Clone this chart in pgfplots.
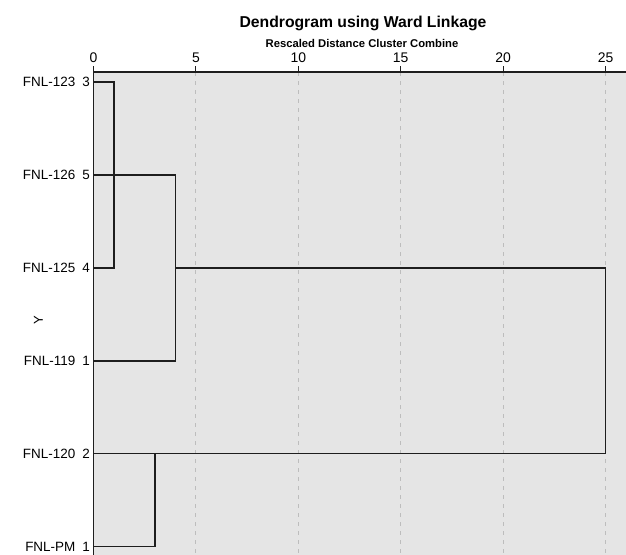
\documentclass[border=0pt]{standalone}
\usepackage{fontspec}
\setmainfont{Liberation Sans}
\usepackage{pgfplots}
\pgfplotsset{compat=1.18}
\definecolor{bg}{HTML}{E5E5E5}
\definecolor{grd}{HTML}{BDBDBD}
\definecolor{ln}{HTML}{1E1E1E}

\begin{document}
\begin{tikzpicture}
\begin{axis}[
  scale only axis, width=532.5bp, height=483bp,
  xmin=0, xmax=26, ymin=0.8925, ymax=6.089, y dir=reverse,
  axis x line=top, axis y line=left,
  axis line style={-, draw=ln, line width=1.3bp},
  xtick={0,5,...,25}, tick align=outside, major tick length=6bp,
  xtick style={draw=ln, line width=1bp},
  ytick={1,...,6}, ytick style={draw=none},
  yticklabels={FNL-123\hspace{7bp}3, FNL-126\hspace{7bp}5, FNL-125\hspace{7bp}4,
               FNL-119\hspace{7bp}1, FNL-120\hspace{7bp}2, FNL-PM\hspace{7bp}1},
  xmajorgrids, grid style={draw=grd, dash pattern=on 4bp off 5bp, line width=1bp},
  axis background/.style={fill=bg},
  ticklabel style={font=\fontsize{14}{16}\selectfont},
  yticklabel style={font=\fontsize{13.5}{16}\selectfont, inner xsep=0bp, xshift=2.5bp},
  /pgf/number format/assume math mode=true,
  clip=false,
]
% dendrogram branches
\addplot[ln, line width=1.4bp] coordinates {(0,1) (1,1) (1,3) (0,3)};
\addplot[ln, line width=1.4bp] coordinates {(0,2) (4,2) (4,4) (0,4)};
\addplot[ln, line width=1.4bp] coordinates {(4,3) (25,3) (25,5) (0,5)};
\addplot[ln, line width=1.4bp] coordinates {(0,6) (3,6) (3,5)};
\end{axis}
\node[font=\bfseries\fontsize{15.8}{18}\selectfont] at (269.5bp,532bp) {Dendrogram using Ward Linkage};
\node[font=\bfseries\fontsize{11.3}{13}\selectfont] at (268.5bp,512bp) {Rescaled Distance Cluster Combine};
\node[rotate=90, font=\fontsize{13}{15}\selectfont] at (-55bp,235bp) {Y};
\pgfresetboundingbox
\path[use as bounding box] (-93.5bp,0) rectangle (532.5bp,555bp);
\end{tikzpicture}
\end{document}
